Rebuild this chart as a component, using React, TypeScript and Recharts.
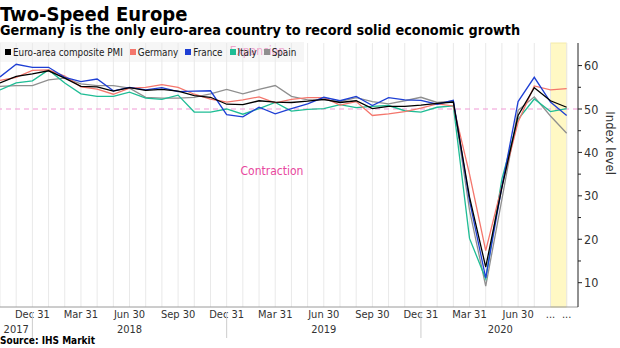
import React from 'react';
import {
  ComposedChart,
  Line,
  XAxis,
  YAxis,
  ReferenceLine,
  ReferenceArea,
  ReferenceDot,
} from 'recharts';

const FONT = '"DejaVu Sans Condensed", "DejaVu Sans", sans-serif';

const months = [
  'Oct 2017', 'Nov 2017', 'Dec 2017',
  'Jan 2018', 'Feb 2018', 'Mar 2018', 'Apr 2018', 'May 2018', 'Jun 2018',
  'Jul 2018', 'Aug 2018', 'Sep 2018', 'Oct 2018', 'Nov 2018', 'Dec 2018',
  'Jan 2019', 'Feb 2019', 'Mar 2019', 'Apr 2019', 'May 2019', 'Jun 2019',
  'Jul 2019', 'Aug 2019', 'Sep 2019', 'Oct 2019', 'Nov 2019', 'Dec 2019',
  'Jan 2020', 'Feb 2020', 'Mar 2020', 'Apr 2020', 'May 2020', 'Jun 2020',
  'Jul 2020', 'Aug 2020', 'Sep 2020',
];

const euroArea = [
  56.0, 57.5, 58.1, 58.8, 57.1, 55.2, 55.1, 54.1, 54.9, 54.3, 54.5, 54.1,
  53.1, 52.7, 51.1, 51.0, 51.9, 51.6, 51.5, 51.8, 52.2, 51.5, 51.9, 50.1,
  50.6, 50.6, 50.9, 51.3, 51.6, 29.7, 13.6, 31.9, 48.5, 54.9, 51.9, 50.4,
];
const germany = [
  56.6, 57.3, 58.9, 59.0, 57.6, 55.1, 54.6, 53.4, 54.8, 55.0, 55.6, 55.0,
  53.4, 52.3, 51.6, 52.1, 52.8, 51.4, 52.2, 52.6, 52.6, 50.9, 51.7, 48.5,
  48.9, 49.4, 50.2, 51.2, 50.7, 35.0, 17.4, 32.3, 47.0, 55.3, 54.4, 54.7,
];
const france = [
  57.4, 60.3, 59.6, 59.6, 57.3, 56.3, 56.9, 54.2, 55.0, 54.4, 54.9, 54.0,
  54.1, 54.2, 48.7, 48.2, 50.4, 48.9, 50.1, 51.2, 52.7, 51.9, 52.9, 50.8,
  52.6, 52.1, 52.0, 51.1, 52.0, 28.9, 11.1, 32.1, 51.7, 57.3, 51.6, 48.5,
];
const italy = [
  54.4, 56.0, 56.5, 59.0, 56.0, 53.5, 52.9, 52.9, 53.9, 52.5, 52.2, 53.2,
  49.3, 49.3, 50.0, 48.8, 50.1, 51.5, 49.5, 49.9, 50.1, 51.0, 50.3, 50.6,
  50.8, 49.6, 49.3, 50.4, 50.7, 20.2, 10.9, 33.9, 47.6, 52.3, 49.4, 50.1,
];
const spain = [
  55.2, 55.4, 55.4, 56.7, 57.1, 55.8, 55.4, 55.4, 54.8, 52.7, 52.5, 52.5,
  52.7, 53.5, 54.5, 53.5, 54.5, 55.4, 52.9, 52.1, 52.1, 51.7, 52.6, 51.7,
  51.2, 51.9, 52.7, 51.5, 51.8, 26.7, 9.2, 29.2, 49.7, 52.8, 48.4, 44.4,
];

// quarter tick labels, placed at month index
const monthTickIdx = [2, 5, 8, 11, 14, 17, 20, 23, 26, 29, 32, 34, 35];
const monthTickLabels = [
  'Dec 31', 'Mar 31', 'Jun 30', 'Sep 30', 'Dec 31', 'Mar 31', 'Jun 30',
  'Sep 30', 'Dec 31', 'Mar 31', 'Jun 30', '...', '...',
];
const yearLabelIdx = [1, 8, 20, 30.9];
const yearLabels = ['2017', '2018', '2019', '2020'];
const yearSeparatorIdx = [2, 14, 26];

const yTicks = [10, 15, 20, 25, 30, 35, 40, 45, 50, 55, 60];

const flashStart = 34;
const flashEnd = 35;

const series = [
  { key: 'spain', name: 'Spain', color: '#8f8f8f', values: spain },
  { key: 'italy', name: 'Italy', color: '#1fbd95', values: italy },
  { key: 'germany', name: 'Germany', color: '#f4766c', values: germany },
  { key: 'france', name: 'France', color: '#1e3fd4', values: france },
  { key: 'euro', name: 'Euro-area composite PMI', color: '#000000', values: euroArea },
];
const legendOrder = ['euro', 'germany', 'france', 'italy', 'spain'];

const data = months.map((m, i) => {
  const row: Record<string, any> = { idx: i, month: m };
  series.forEach((s) => {
    row[s.key] = s.values[i];
  });
  return row;
});

const MonthTick = (props: any) => {
  const { x, y, payload } = props;
  const i = monthTickIdx.indexOf(payload.value);
  return (
    <text x={x} y={y + 9} textAnchor="middle" fontSize={11} fill="#333" fontFamily={FONT} style={{ fontStretch: 'condensed' }}>
      {i >= 0 ? monthTickLabels[i] : ''}
    </text>
  );
};

const YearTick = (props: any) => {
  const { x, y, payload } = props;
  if (yearSeparatorIdx.includes(payload.value)) {
    return <line x1={x} x2={x} y1={y - 11} y2={y + 15} stroke="#ccc" strokeWidth={1} />;
  }
  const i = yearLabelIdx.indexOf(payload.value);
  return (
    <text x={x} y={y + 10} textAnchor="middle" fontSize={11} fill="#333" fontFamily={FONT} style={{ fontStretch: 'condensed' }}>
      {i >= 0 ? yearLabels[i] : ''}
    </text>
  );
};

const YTick = (props: any) => {
  const { x, y, payload } = props;
  const v = payload.value;
  const major = v % 10 === 0;
  const ax = x - 6;
  return (
    <g>
      <line x1={ax} x2={ax + (major ? 4 : 3)} y1={y} y2={y} stroke="#222" strokeWidth={1} />
      {major && (
        <text x={x} y={y + 4.5} textAnchor="start" fontSize={12.5} fill="#333" fontFamily={FONT} style={{ fontStretch: 'condensed' }}>
          {v}
        </text>
      )}
    </g>
  );
};

export default function App() {
  return (
    <div
      style={{
        position: 'absolute',
        left: 0,
        top: 0,
        width: 620,
        height: 348,
        background: '#fff',
        fontFamily: FONT,
        fontStretch: 'condensed',
        overflow: 'hidden',
      }}
    >
      <ComposedChart
        width={620}
        height={348}
        data={data}
        margin={{ top: 43, right: 0, bottom: 0, left: 0 }}
      >
        {months.map((m, i) => (
          <ReferenceLine key={m} x={i} stroke="#e9e9e9" strokeWidth={1} />
        ))}
        <ReferenceArea
          x1={flashStart}
          x2={flashEnd}
          fill="#fff8c4"
          fillOpacity={1}
          stroke="#f4eaa8"
          strokeWidth={1}
        />
        <ReferenceLine y={50} stroke="#f29ad6" strokeDasharray="5 4" strokeWidth={1.2} />
        <ReferenceDot
          x={15.9}
          y={63.4}
          r={0}
          fill="none"
          stroke="none"
          ifOverflow="visible"
          label={{ value: 'Expansion', position: 'center', fill: '#f06ab2', fontSize: 12, fontFamily: FONT }}
        />
        <ReferenceDot
          x={16.8}
          y={35.7}
          r={0}
          fill="none"
          stroke="none"
          label={{ value: 'Contraction', position: 'center', fill: '#e8489e', fontSize: 12, fontFamily: FONT }}
        />
        <XAxis
          dataKey="idx"
          type="number"
          domain={[0, 35.7]}
          ticks={monthTickIdx}
          interval={0}
          tick={<MonthTick />}
          tickLine={false}
          tickSize={0}
          axisLine={{ stroke: '#9a9a9a' }}
          height={14}
          allowDataOverflow
        />
        <XAxis
          xAxisId="year"
          dataKey="idx"
          type="number"
          domain={[0, 35.7]}
          ticks={[...yearLabelIdx, ...yearSeparatorIdx]}
          interval={0}
          tick={<YearTick />}
          tickLine={false}
          tickSize={0}
          axisLine={false}
          height={27}
          allowDataOverflow
        />
        <YAxis
          orientation="right"
          type="number"
          domain={[4.4, 65.2]}
          ticks={yTicks}
          interval={0}
          tick={<YTick />}
          tickLine={false}
          tickSize={4}
          tickMargin={2}
          axisLine={{ stroke: '#222' }}
          width={42}
          allowDataOverflow
          label={{ value: 'Index level', angle: 90, position: 'insideRight', offset: 9, fontSize: 13, fill: '#333', fontFamily: FONT }}
        />
        {series.map((s) => (
          <Line
            key={s.key}
            dataKey={s.key}
            name={s.name}
            type="linear"
            stroke={s.color}
            strokeWidth={1.3}
            dot={false}
            activeDot={false}
            isAnimationActive={false}
          />
        ))}
      </ComposedChart>

      <div style={{ position: 'absolute', left: 0, top: 2, fontSize: 20, fontWeight: 'bold', lineHeight: '24px', color: '#000', whiteSpace: 'nowrap' }}>
        Two-Speed Europe
      </div>
      <div style={{ position: 'absolute', left: 0, top: 22, fontSize: 14.3, fontWeight: 'bold', lineHeight: '17px', color: '#000', whiteSpace: 'nowrap' }}>
        Germany is the only euro-area country to record solid economic growth
      </div>
      <div
        style={{
          position: 'absolute',
          left: 0,
          top: 42,
          width: 304,
          height: 20,
          background: 'rgba(236,236,236,0.45)',
          display: 'flex',
          alignItems: 'center',
          fontSize: 9.8,
          color: '#222',
          whiteSpace: 'nowrap',
        }}
      >
        {legendOrder.map((k, j) => {
          const s = series.find((q) => q.key === k)!;
          return (
            <span key={k} style={{ display: 'inline-flex', alignItems: 'center', marginLeft: j === 0 ? 5 : 7 }}>
              <span style={{ display: 'inline-block', width: 6, height: 6, background: s.color, marginRight: 2 }} />
              {s.name}
            </span>
          );
        })}
      </div>
      <div style={{ position: 'absolute', left: 0, top: 334, fontSize: 10, fontWeight: 'bold', lineHeight: '13px', color: '#000', whiteSpace: 'nowrap' }}>
        Source: IHS Markit
      </div>
    </div>
  );
}
